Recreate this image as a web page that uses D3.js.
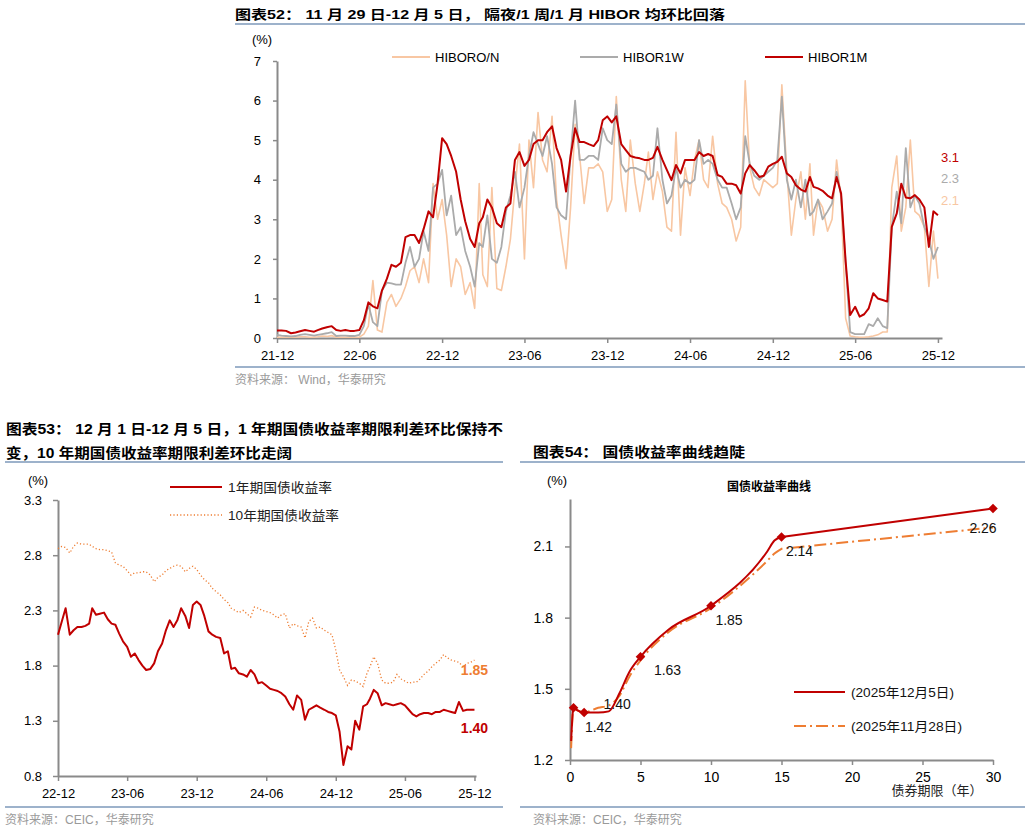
<!DOCTYPE html>
<html>
<head>
<meta charset="utf-8">
<script src="https://cdn.jsdelivr.net/npm/d3@7"></script>
<style>
  body { margin: 0; background: #fff; }
  svg text { font-family: "Liberation Sans", Arial, "Noto Sans CJK SC", sans-serif; }
</style>
</head>
<body>
<svg id="c" width="1031" height="831"></svg>
<script>
// ---- 图表52: HIBOR, 3 readings per month (1st, 11th, 21st) from 2021-12
const sampleDays = [1, 11, 21]
const hiborTicks = ['21-12', '22-06', '22-12', '23-06', '23-12', '24-06', '24-12', '25-06', '25-12']
const hiborNames = ['HIBORO/N', 'HIBOR1W', 'HIBOR1M']
const hiborEnd = ['2.1', '2.3', '3.1']
const hiborON = [
  0.02, 0.02, 0.02, 0.02, 0.02, 0.03, 0.03, 0.02, 0.02, 0.03, 0.05, 0.04, 0.06, 0.02, 0.02, 0.02, 0.02, 0.02,
  0.02, 0.1, 0.3, 1.45, 0.2, 0.15, 0.9, 1.1, 0.8, 1.0, 1.3, 1.7, 1.8, 1.4, 2.0, 1.4, 3.9, 3.0,
  3.5, 2.6, 1.3, 2.0, 1.8, 1.1, 1.4, 0.75, 3.9, 1.6, 1.3, 3.8, 1.25, 1.2, 1.8, 2.5, 3.8, 4.9,
  2.0, 5.0, 3.8, 5.7, 4.5, 4.2, 5.6, 3.5, 2.6, 1.75, 3.3, 5.4, 4.6, 3.4, 4.3, 4.3, 4.4, 4.2,
  3.2, 3.5, 6.1, 4.0, 3.2, 5.0, 3.9, 3.2, 3.9, 4.7, 3.5, 4.2, 3.7, 2.8, 2.7, 5.2, 2.6, 4.3,
  3.6, 4.5, 5.0, 4.0, 3.8, 5.1, 3.9, 3.4, 3.3, 3.0, 2.45, 2.8, 6.5, 4.3, 3.8, 3.6, 4.0, 3.9,
  3.8, 3.9, 6.4, 4.2, 2.6, 3.5, 4.2, 3.0, 4.4, 2.6, 3.5, 3.3, 2.7, 3.0, 4.5, 3.5, 0.5, 0.05,
  0.03, 0.02, 0.02, 0.03, 0.05, 0.08, 0.15, 0.15, 3.8, 4.6, 2.7, 3.3, 5.0, 3.2, 3.1, 2.8, 1.3, 2.7,
  1.5
]
const hibor1W = [
  0.08, 0.06, 0.05, 0.04, 0.05, 0.08, 0.1, 0.08, 0.06, 0.08, 0.1, 0.12, 0.15, 0.05, 0.06, 0.06, 0.05, 0.05,
  0.08, 0.3, 0.85, 0.4, 0.3, 1.2, 1.4, 1.38, 1.35, 1.35, 1.9, 2.3, 1.8, 2.0, 2.7, 2.2, 3.8, 3.9,
  4.25, 3.1, 3.6, 2.6, 2.8, 2.2, 1.8, 1.3, 2.4, 2.3, 3.1, 2.0, 1.9, 2.3, 3.2, 3.6, 4.2, 3.3,
  3.8, 4.6, 5.2, 4.9, 4.6, 5.1, 4.4, 3.3, 3.1, 3.0, 4.6, 6.0, 4.5, 4.5, 4.6, 4.6, 4.5, 5.3,
  5.0, 4.9, 5.9, 4.4, 4.2, 4.3, 4.3, 4.25, 4.2, 4.0, 4.1, 5.3, 4.0, 3.4, 3.6, 4.3, 3.8, 4.0,
  3.9, 4.0, 5.0, 4.4, 4.5, 4.4, 4.0, 3.8, 3.8, 3.4, 3.0, 3.3, 5.1, 4.4, 4.1, 4.0, 4.1, 4.2,
  4.3, 4.5, 6.1, 4.0, 3.5, 4.0, 3.3, 4.0, 3.1, 3.2, 3.5, 3.0, 3.2, 3.4, 4.2, 3.6, 1.9, 0.15,
  0.1, 0.1, 0.1, 0.35, 0.3, 0.5, 0.3, 0.25, 2.8, 3.7, 2.9, 4.8, 3.3, 3.6, 3.4, 2.8, 2.5, 2.0,
  2.3
]
const hibor1M = [
  0.19, 0.19, 0.18, 0.12, 0.14, 0.17, 0.2, 0.18, 0.16, 0.2, 0.24, 0.27, 0.3, 0.2, 0.18, 0.2, 0.18, 0.18,
  0.2, 0.45, 0.9, 0.8, 0.75, 1.2, 1.5, 1.85, 1.8, 1.9, 2.55, 2.6, 2.6, 2.4, 2.75, 3.2, 3.05, 3.9,
  5.05, 4.9, 4.6, 4.2, 3.5, 2.95, 2.5, 2.3, 2.9, 3.05, 3.5, 3.3, 2.9, 2.8, 3.3, 3.4, 4.5, 4.7,
  4.35, 4.5, 4.9, 5.0, 5.0, 5.2, 5.35, 4.8, 4.5, 3.7, 4.6, 5.3, 4.95, 4.95, 4.9, 4.85, 5.0, 5.5,
  5.6, 5.45, 5.6, 4.9, 4.75, 4.6, 4.56, 4.54, 4.5, 4.5, 4.55, 4.83, 4.5, 4.24, 3.99, 4.37, 4.16, 4.5,
  4.5, 4.5, 4.7, 4.6, 4.65, 4.6, 4.12, 4.07, 3.9, 3.9, 3.86, 3.65, 4.16, 4.37, 4.24, 4.07, 4.1, 4.33,
  4.4, 4.45, 4.58, 4.16, 4.07, 3.86, 3.75, 3.7, 4.07, 3.82, 3.78, 3.72, 3.6, 3.53, 4.07, 3.65, 1.93, 0.58,
  0.79, 0.54, 0.6, 0.75, 1.13, 1.0, 0.96, 0.92, 2.81, 3.15, 3.9, 3.55, 3.53, 3.61, 3.5, 3.3, 2.3, 3.2,
  3.1
]

// ---- 图表53: 国债收益率, 3 readings per month from 2022-12
const cgbTicks = ['22-12', '23-06', '23-12', '24-06', '24-12', '25-06', '25-12']
const cgbNames = ['1年期国债收益率', '10年期国债收益率']
const cgb1Y = [
  2.08, 2.2, 2.32, 2.08, 2.12, 2.15, 2.15, 2.16, 2.18, 2.32, 2.26, 2.27, 2.28, 2.22, 2.18, 2.17, 2.09, 2.02,
  1.97, 1.88, 1.91, 1.85, 1.8, 1.76, 1.77, 1.82, 1.93, 2.0, 2.12, 2.21, 2.15, 2.21, 2.32, 2.25, 2.14, 2.35,
  2.38, 2.35, 2.25, 2.11, 2.08, 2.06, 2.05, 1.91, 1.93, 1.77, 1.78, 1.73, 1.72, 1.7, 1.76, 1.72, 1.64, 1.65,
  1.62, 1.59, 1.58, 1.57, 1.55, 1.52, 1.45, 1.4, 1.53, 1.49, 1.31, 1.4, 1.42, 1.44, 1.42, 1.4, 1.38, 1.37,
  1.35, 1.2, 0.9, 1.07, 1.04, 1.3, 1.22, 1.43, 1.45, 1.5, 1.58, 1.55, 1.44, 1.46, 1.45, 1.44, 1.45, 1.46,
  1.44, 1.4, 1.36, 1.34, 1.36, 1.37, 1.37, 1.36, 1.38, 1.38, 1.4, 1.39, 1.38, 1.37, 1.47, 1.39, 1.4, 1.4,
  1.4
]
const cgb10Y = [
  2.86, 2.88, 2.87, 2.82, 2.88, 2.91, 2.9, 2.9, 2.9, 2.88, 2.86, 2.85, 2.85, 2.84, 2.83, 2.73, 2.71, 2.7,
  2.66, 2.62, 2.64, 2.64, 2.65, 2.65, 2.62, 2.56, 2.6, 2.62, 2.66, 2.68, 2.7, 2.71, 2.7, 2.65, 2.68, 2.7,
  2.67, 2.62, 2.58, 2.55, 2.5, 2.47, 2.44, 2.4, 2.37, 2.32, 2.3, 2.28, 2.3, 2.27, 2.24, 2.33, 2.32, 2.3,
  2.29, 2.28, 2.26, 2.23, 2.26, 2.27, 2.14, 2.18, 2.16, 2.15, 2.05, 2.2, 2.23, 2.14, 2.15, 2.12, 2.1, 2.08,
  1.94, 1.76, 1.7, 1.62, 1.67, 1.66, 1.64, 1.61, 1.73, 1.79, 1.88, 1.82, 1.67, 1.64, 1.64, 1.65, 1.72, 1.68,
  1.66, 1.64, 1.65, 1.65, 1.68, 1.72, 1.75, 1.79, 1.82, 1.85, 1.9, 1.87, 1.85, 1.84, 1.83, 1.79, 1.82, 1.83,
  1.85
]

// ---- 图表54: 国债收益率曲线 (smooth up to 15y, straight 15y -> 30y)
const tenors = [0.08, 0.25, 0.5, 1, 2, 2.75, 3.5, 4.2, 5, 7, 10, 14, 14.5, 15, 30]
const curveDec5 = [1.28, 1.42, 1.41, 1.40, 1.40, 1.405, 1.48, 1.57, 1.635, 1.75, 1.85, 2.08, 2.125, 2.14, 2.26]
const curveNov28 = [1.25, 1.43, 1.41, 1.40, 1.42, 1.43, 1.47, 1.55, 1.62, 1.74, 1.84, 2.04, 2.07, 2.09, 2.18]
const markerTenors = [0.25, 1, 5, 10, 15, 30]
const markerLabels = ['1.42', '1.40', '1.63', '1.85', '2.14', '2.26']
const curveNames = ['(2025年12月5日)', '(2025年11月28日)']
const tenorTicks = [0, 5, 10, 15, 20, 25, 30]

const RED = '#C00000'
const GRAY = '#ABABAB'
const PEACH = '#F8C7A3'
const ORANGE = '#EE7D32'
const RULE = '#9DB2CB'

const svg = d3.select('#c')
const parseMonth = d3.timeParse('%y-%m')

function rule(x1, x2, y) {
  svg.append('line')
    .attr('x1', x1).attr('x2', x2).attr('y1', y).attr('y2', y)
    .attr('stroke', RULE).attr('stroke-width', 2)
}

function text(x, y, s, size, opts) {
  opts = opts || {}
  const t = svg.append('text')
    .attr('x', x).attr('y', y)
    .style('font-size', size + 'px')
    .attr('fill', opts.fill || '#000')
    .attr('text-anchor', opts.anchor || 'start')
    .attr('font-weight', opts.bold ? 'bold' : 'normal')
    .text(s)
  if (opts.len) t.attr('textLength', opts.len).attr('lengthAdjust', 'spacingAndGlyphs')
  return t
}

function styleAxis(g, size) {
  g.select('.domain').attr('stroke', '#8A8A8A').attr('stroke-width', 2)
  g.selectAll('.tick line').attr('stroke', '#8A8A8A').attr('stroke-width', 1.5)
  g.selectAll('.tick text').attr('fill', '#000').style('font-size', size + 'px')
}

// ================= 图表52 =================
text(235, 19, '图表52： 11 月 29 日-12 月 5 日， 隔夜/1 周/1 月 HIBOR 均环比回落', 13, { bold: true, len: 490 })
rule(235, 1025, 24)

const hiborDates = hibor1M.map((v, i) => new Date(2021, 11 + Math.floor(i / 3), sampleDays[i % 3]))
const x52 = d3.scaleTime()
  .domain([new Date(2021, 11, 1), new Date(2025, 11, 10)])
  .range([277, 942])
const y52 = d3.scaleLinear().domain([0, 7]).range([338, 61])

svg.append('g')
  .attr('transform', 'translate(0,338)')
  .call(d3.axisBottom(x52).tickValues(hiborTicks.map(parseMonth)).tickFormat(d3.timeFormat('%y-%m'))
    .tickSize(5).tickSizeOuter(0).tickPadding(8))
  .call(g => styleAxis(g, 13))

svg.append('g')
  .attr('transform', 'translate(277,0)')
  .call(d3.axisLeft(y52).ticks(7).tickFormat(d3.format('d')).tickSize(4).tickSizeOuter(0).tickPadding(12))
  .call(g => styleAxis(g, 13))

text(262, 44, '(%)', 13, { anchor: 'middle' })

const hiborSeries = [
  { vals: hiborON, color: PEACH, w: 1.6 },
  { vals: hibor1W, color: GRAY, w: 1.8 },
  { vals: hibor1M, color: RED, w: 2 }
]
const line52 = d3.line().x((d, i) => x52(hiborDates[i])).y(d => y52(d))

svg.append('g').selectAll('path')
  .data(hiborSeries)
  .enter().append('path')
  .attr('d', d => line52(d.vals))
  .attr('fill', 'none')
  .attr('stroke', d => d.color)
  .attr('stroke-width', d => d.w)
  .attr('stroke-linejoin', 'round')

const legend52X = [392, 580, 765]
hiborSeries.forEach((s, i) => {
  svg.append('line')
    .attr('x1', legend52X[i]).attr('x2', legend52X[i] + 38)
    .attr('y1', 57).attr('y2', 57)
    .attr('stroke', s.color).attr('stroke-width', 2)
  text(legend52X[i] + 43, 62, hiborNames[i], 13)
})

const end52Y = [200, 178, 157]
hiborSeries.forEach((s, i) => {
  text(950, end52Y[i] + 5, hiborEnd[i], 13, { fill: s.color, anchor: 'middle' })
})

rule(235, 1025, 367)
text(235, 384, '资料来源： Wind，华泰研究', 12, { fill: '#9A9A9A' })

// ================= 图表53 =================
text(6, 434, '图表53： 12 月 1 日-12 月 5 日，1 年期国债收益率期限利差环比保持不', 14, { bold: true, len: 497 })
text(6, 458, '变，10 年期国债收益率期限利差环比走阔', 14, { bold: true, len: 286 })
rule(5, 503, 462)

const cgbDates = cgb1Y.map((v, i) => new Date(2022, 11 + Math.floor(i / 3), sampleDays[i % 3]))
const x53 = d3.scaleTime()
  .domain([new Date(2022, 11, 1), new Date(2025, 11, 5)])
  .range([58, 476])
const y53 = d3.scaleLinear().domain([0.8, 3.3]).range([776, 500])

svg.append('g')
  .attr('transform', 'translate(0,776)')
  .call(d3.axisBottom(x53).tickValues(cgbTicks.map(parseMonth)).tickFormat(d3.timeFormat('%y-%m'))
    .tickSize(5).tickSizeOuter(0).tickPadding(8))
  .call(g => styleAxis(g, 13))

svg.append('g')
  .attr('transform', 'translate(58,0)')
  .call(d3.axisLeft(y53).tickValues([0.8, 1.3, 1.8, 2.3, 2.8, 3.3]).tickFormat(d3.format('.1f'))
    .tickSize(5).tickSizeOuter(0).tickPadding(11))
  .call(g => styleAxis(g, 13))

text(38, 485, '(%)', 13, { anchor: 'middle' })

const line53 = d3.line().x((d, i) => x53(cgbDates[i])).y(d => y53(d))

svg.append('path')
  .attr('d', line53(cgb10Y))
  .attr('fill', 'none')
  .attr('stroke', ORANGE)
  .attr('stroke-width', 1.3)
  .attr('stroke-dasharray', '1.2,2.2')

svg.append('path')
  .attr('d', line53(cgb1Y))
  .attr('fill', 'none')
  .attr('stroke', RED)
  .attr('stroke-width', 2)
  .attr('stroke-linejoin', 'round')

svg.append('line')
  .attr('x1', 170).attr('x2', 222).attr('y1', 487).attr('y2', 487)
  .attr('stroke', RED).attr('stroke-width', 2)
text(228, 492, cgbNames[0], 13, { fill: '#222', len: 104 })
svg.append('line')
  .attr('x1', 170).attr('x2', 222).attr('y1', 515).attr('y2', 515)
  .attr('stroke', ORANGE).attr('stroke-width', 1.3).attr('stroke-dasharray', '1.2,2.2')
text(228, 520, cgbNames[1], 13, { fill: '#222', len: 111 })

const last = cgb1Y.length - 1
text(x53(cgbDates[last]), y53(cgb10Y[last]) + 15, d3.format('.2f')(cgb10Y[last]), 14, { fill: ORANGE, anchor: 'middle', bold: true })
text(x53(cgbDates[last]), y53(cgb1Y[last]) + 23, d3.format('.2f')(cgb1Y[last]), 14, { fill: RED, anchor: 'middle', bold: true })

rule(5, 503, 807)
text(5, 824, '资料来源：CEIC，华泰研究', 12, { fill: '#9A9A9A' })

// ================= 图表54 =================
text(533, 457, '图表54：  国债收益率曲线趋陡', 14, { bold: true, len: 212 })
rule(520, 1025, 462)

const x54 = d3.scaleLinear().domain([0, 30]).range([570, 993])
const y54 = d3.scaleLinear().domain([1.2, 2.3]).range([760, 499])

svg.append('g')
  .attr('transform', 'translate(0,760)')
  .call(d3.axisBottom(x54).tickValues(tenorTicks).tickSize(5).tickSizeOuter(0).tickPadding(7))
  .call(g => styleAxis(g, 14))

svg.append('g')
  .attr('transform', 'translate(570,0)')
  .call(d3.axisLeft(y54).tickValues([1.2, 1.5, 1.8, 2.1]).tickFormat(d3.format('.1f'))
    .tickSize(5).tickSizeOuter(0).tickPadding(12))
  .call(g => styleAxis(g, 14))

text(557, 485, '(%)', 13, { anchor: 'middle' })
text(769, 491, '国债收益率曲线', 12, { anchor: 'middle', bold: true })
text(937, 795, '债券期限（年）', 13, { anchor: 'middle', fill: '#222' })

// smooth part up to 15y, then a straight segment to 30y
const splitAt = tenors.indexOf(15)
const smooth54 = d3.line().x((d, i) => x54(tenors[i])).y(d => y54(d)).curve(d3.curveMonotoneX)
const path54 = vals => {
  const head = smooth54(vals.slice(0, splitAt + 1))
  const tail = vals.slice(splitAt + 1).map((v, j) => 'L' + x54(tenors[splitAt + 1 + j]) + ',' + y54(v)).join('')
  return head + tail
}

svg.append('path')
  .attr('d', path54(curveNov28))
  .attr('fill', 'none')
  .attr('stroke', ORANGE)
  .attr('stroke-width', 2)
  .attr('stroke-dasharray', '12,4,2,4')

svg.append('path')
  .attr('d', path54(curveDec5))
  .attr('fill', 'none')
  .attr('stroke', RED)
  .attr('stroke-width', 2)

const markerVals = markerTenors.map(t => curveDec5[tenors.indexOf(t)])
svg.append('g').selectAll('path')
  .data(markerTenors)
  .enter().append('path')
  .attr('d', d3.symbol().type(d3.symbolSquare).size(46))
  .attr('transform', (d, i) => 'translate(' + x54(d) + ',' + y54(markerVals[i]) + ') rotate(45)')
  .attr('fill', RED)

const labelDx = [25, 33, 27, 18, 18, -10]
const labelDy = [24, -4, 18, 19, 19, 25]
markerTenors.forEach((t, i) => {
  text(x54(t) + labelDx[i], y54(markerVals[i]) + labelDy[i], markerLabels[i], 14, { anchor: 'middle', fill: '#111' })
})

svg.append('line')
  .attr('x1', 794).attr('x2', 845).attr('y1', 692).attr('y2', 692)
  .attr('stroke', RED).attr('stroke-width', 2)
text(851, 697, curveNames[0], 13, { fill: '#111', len: 103 })
svg.append('line')
  .attr('x1', 794).attr('x2', 845).attr('y1', 726).attr('y2', 726)
  .attr('stroke', ORANGE).attr('stroke-width', 2).attr('stroke-dasharray', '12,4,2,4')
text(851, 731, curveNames[1], 13, { fill: '#111', len: 111 })

rule(520, 1025, 807)
text(533, 824, '资料来源：CEIC，华泰研究', 12, { fill: '#9A9A9A' })
</script>
</body>
</html>
